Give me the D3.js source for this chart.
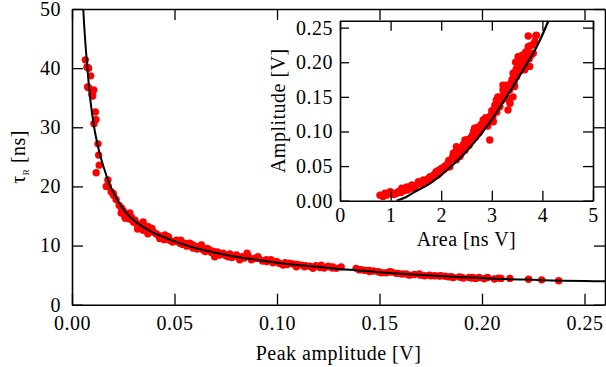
<!DOCTYPE html>
<html><head><meta charset="utf-8">
<script src="https://cdn.jsdelivr.net/npm/d3@7"></script>
<style>
html,body{margin:0;padding:0;background:#fff;}
svg{display:block;}
text{font-family:"Liberation Serif","Times New Roman",serif;fill:#000;letter-spacing:0.5px;}
</style></head>
<body>
<svg id="chart" width="606" height="367"></svg>
<script>
// ---- main panel data: peak amplitude [V] vs rise time tau_R [ns]
const peakAmp = [0.0065,0.0073,0.0081,0.0091,0.0076,0.0106,0.0097,0.0081,0.0101,0.0114,0.0117,0.0107,0.0127,0.0130,0.0133,0.0118,0.0175,0.0167,0.0191,0.0203,0.0177,0.0201,0.0242,0.0258,0.0282,0.0307,0.0323,0.0347,0.0347,0.0372,0.0396,0.0428,0.0453,0.0477,0.0510,0.0526,0.0574,0.0607,
0.0215,0.0230,0.0250,0.0270,0.0290,0.0310,0.0330,0.0360,0.0380,0.0410,0.0440,0.0460,0.0490,0.0540,0.0560,0.0590,
0.0590,0.0631,0.0640,0.0672,0.0696,0.0737,0.0761,0.0802,0.0818,0.0854,0.0875,0.0907,0.0948,0.0997,0.1030,0.1061,0.1094,0.1134,0.1175,0.1216,0.1256,0.1289,
0.0620,0.0660,0.0680,0.0710,0.0720,0.0750,0.0780,0.0840,0.0890,0.0930,0.0970,0.1010,0.1050,0.1080,0.1120,0.1160,0.1190,0.1230,0.1270,
0.1272,0.1313,0.1386,0.1411,0.1451,0.1492,0.1533,0.1582,0.1646,0.1694,0.1743,0.1792,0.1840,0.1889,0.1938,0.1970,
0.1430,0.1470,0.1510,0.1560,0.1610,0.1670,0.1720,0.1770,0.1820,0.1860,0.1910,
0.1954,0.1986,0.2027,0.2060,0.2093,0.2136,0.2227,0.2291,0.2374,0.2010,0.2080,
0.024,0.026,0.028,0.030,0.032,0.034,0.035,0.037,0.039,0.042,0.043,0.045,0.047,0.050,0.053,0.055,0.058,0.061,0.063,0.065,0.069,0.074,0.077,0.079,0.083,0.086,0.091,0.095,0.098,0.104,0.110,0.114,0.118,0.121,0.125,0.140,0.145,0.150,0.155,0.159,0.163,0.170,0.175,0.180,0.185,0.190,0.195];
const tauR = [41.4,40.2,40.0,38.7,36.8,36.3,35.5,36.7,35.3,32.6,31.3,30.6,27.2,25.3,23.6,22.3,21.1,20.0,19.1,18.5,20.0,18.8,16.3,14.9,15.5,14.3,13.2,12.6,14.0,13.2,12.3,11.2,11.8,10.9,10.9,10.4,10.4,9.8,
17.8,16.8,15.9,15.2,14.8,13.8,13.6,12.9,12.4,12.0,11.4,11.2,10.6,10.2,9.9,9.6,
10.1,10.1,9.25,9.25,8.1,8.7,8.1,8.4,7.6,8.7,7.6,8.1,7.6,7.3,6.7,7.0,6.4,6.4,6.15,6.7,6.4,6.15,
9.6,9.5,8.8,8.9,8.4,8.3,8.0,7.9,7.8,7.4,7.6,7.0,6.8,6.9,6.7,6.5,6.6,6.2,6.2,
6.4,6.4,6.15,5.9,5.6,5.6,5.4,5.3,5.0,5.2,5.0,4.85,4.7,4.7,4.6,4.45,
5.8,5.7,5.4,5.5,5.2,5.1,4.9,4.9,4.8,4.6,4.5,
4.6,4.6,4.6,4.35,4.45,4.45,4.3,4.2,4.05,4.4,4.5,
15.5,14.6,14.5,14.0,12.8,13.0,13.5,12.0,12.9,11.8,11.5,11.0,11.5,10.7,10.9,10.4,10.0,9.4,9.8,9.0,9.0,8.5,8.6,8.2,8.1,8.2,7.8,7.3,7.1,7.1,6.8,6.6,6.4,6.3,6.5,5.9,5.8,5.5,5.6,5.3,5.2,5.0,4.9,4.9,4.75,4.6,4.5];
// fitted curve
const fitAmp = [0.0050,0.0055,0.0068,0.0075,0.0090,0.0108,0.0130,0.0155,0.0185,0.0225,0.0270,0.0320,0.0380,0.0450,0.0500,0.0600,0.0700,0.0800,0.0900,0.1000,0.1100,0.1200,0.1300,0.1400,0.1500,0.1600,0.1700,0.1800,0.1900,0.2000,0.2100,0.2200,0.2300,0.2400,0.2500,0.2600];
const fitTau = [54.0,50.0,43.0,40.0,34.5,30.0,26.3,23.2,20.2,17.5,15.3,13.8,12.5,11.4,10.7,9.6,8.8,8.1,7.6,7.1,6.7,6.4,6.05,5.8,5.5,5.25,5.05,4.85,4.65,4.5,4.35,4.25,4.15,4.05,4.0,3.95];
const mainXTicks = [0.00,0.05,0.10,0.15,0.20,0.25];
const mainYTicks = [0,10,20,30,40,50];

// ---- inset data: area [ns V] vs amplitude [V]
const insetArea = [0.79,0.85,0.92,0.89,0.99,1.02,1.15,1.18,1.22,1.32,1.32,1.42,1.45,1.55,1.58,1.65,1.71,1.78,1.84,1.90,1.91,1.97,2.01,2.04,2.11,2.17,2.20,2.24,2.24,2.30,2.30,2.34,2.37,2.40,2.47,2.47,2.47,2.50,2.57,2.60,2.66,2.66,2.73,2.76,2.83,2.83,2.86,2.96,2.99,3.03,3.03,3.09,3.09,3.22,3.22,3.25,3.29,3.32,3.34,3.36,3.42,3.42,3.45,3.49,3.52,3.55,3.62,3.65,3.72,3.72,3.75,3.75,3.78,3.82,3.87,3.88,
1.05,1.25,1.38,1.50,1.62,1.75,1.86,1.95,2.07,2.14,2.27,2.35,2.43,2.53,2.62,2.70,2.79,2.90,2.93,3.00,3.06,3.13,3.18,3.28,3.38,3.48,3.58,3.68,3.70,
2.15,2.22,2.28,2.33,2.38,2.45,2.52,2.55,2.60,2.64,2.68,2.72,2.75,2.80,2.85,2.88,2.92,2.97,3.02,3.05,3.10,3.12,3.16,3.20,3.24,3.27,3.31,3.35,3.40,3.44,3.47,3.50,3.54,3.57,3.60,3.64,3.67,3.74,3.80,3.85,
1.10,1.20,1.35,1.48,1.60,1.68,1.80,1.88,1.93,2.00,2.05,2.10];
const insetAmp = [0.008,0.006,0.008,0.0107,0.013,0.0116,0.013,0.0116,0.018,0.0155,0.020,0.0227,0.018,0.0275,0.025,0.030,0.030,0.0347,0.035,0.042,0.040,0.040,0.047,0.047,0.0516,0.049,0.059,0.066,0.0685,0.059,0.078,0.0685,0.064,0.0685,0.073,0.078,0.0877,0.078,0.090,0.0877,0.097,0.1046,0.102,0.102,0.107,0.1166,0.1166,0.0877,0.124,0.114,0.126,0.131,0.1455,0.160,0.167,0.155,0.167,0.131,0.1455,0.1407,0.150,0.184,0.165,0.179,0.208,0.194,0.1936,0.189,0.2225,0.238,0.2235,0.194,0.2105,0.213,0.238,0.239,
0.009,0.014,0.019,0.022,0.027,0.032,0.038,0.044,0.050,0.055,0.062,0.072,0.080,0.085,0.095,0.100,0.110,0.112,0.120,0.130,0.138,0.142,0.150,0.158,0.170,0.190,0.200,0.205,0.215,
0.058,0.062,0.070,0.066,0.075,0.082,0.088,0.080,0.092,0.100,0.092,0.106,0.098,0.104,0.110,0.120,0.108,0.122,0.120,0.132,0.128,0.150,0.136,0.145,0.150,0.162,0.148,0.160,0.175,0.170,0.200,0.185,0.198,0.188,0.210,0.200,0.215,0.205,0.225,0.230,
0.010,0.012,0.016,0.020,0.024,0.028,0.031,0.036,0.037,0.043,0.045,0.048];
const insetFitArea = [1.12,1.30,1.45,1.78,2.11,2.43,2.57,2.96,3.29,3.62,3.92,4.12];
const insetFitAmp  = [0.000,0.005,0.0116,0.025,0.044,0.066,0.077,0.113,0.150,0.189,0.227,0.260];
const insetXTicks = [0,1,2,3,4,5];
const insetYTicks = [0.00,0.05,0.10,0.15,0.20,0.25];

const svg = d3.select("#chart");
const FS = 20;

// ---------- main panel
const M = {l:72, r:605, t:9, b:304.7};
const x = d3.scaleLinear().domain([0,0.26]).range([M.l,M.r]);
const y = d3.scaleLinear().domain([0,50]).range([M.b,M.t]);

svg.append("defs").append("clipPath").attr("id","clipMain")
  .append("rect").attr("x",M.l).attr("y",M.t).attr("width",M.r-M.l).attr("height",M.b-M.t);

const pts = peakAmp.map((v,i)=>[v,tauR[i]]);
svg.append("g").attr("clip-path","url(#clipMain)").selectAll("circle").data(pts).join("circle")
  .attr("cx",d=>x(d[0])).attr("cy",d=>y(d[1])).attr("r",3.7).attr("fill","#ff0000");

const fit = fitAmp.map((v,i)=>[v,fitTau[i]]);
svg.append("path").attr("clip-path","url(#clipMain)").datum(fit)
  .attr("d",d3.line().x(d=>x(d[0])).y(d=>y(d[1])).curve(d3.curveMonotoneX))
  .attr("fill","none").attr("stroke","#000").attr("stroke-width",2);

function styleAxis(g){
  g.selectAll("path.domain").attr("stroke","#000").attr("stroke-width",1.6);
  g.selectAll(".tick line").attr("stroke","#000").attr("stroke-width",1.3);
  g.selectAll("text").attr("font-size",FS).attr("font-family","Liberation Serif, Times New Roman, serif").attr("fill","#000");
}
const fmt2 = d3.format(".2f");
svg.append("g").attr("transform",`translate(0,${M.b})`)
  .call(d3.axisBottom(x).tickValues(mainXTicks).tickFormat(fmt2).tickSizeInner(-11).tickSizeOuter(0).tickPadding(11)).call(styleAxis);
svg.append("g").attr("transform",`translate(0,${M.t})`)
  .call(d3.axisTop(x).tickValues(mainXTicks).tickFormat("").tickSizeInner(-11).tickSizeOuter(0)).call(styleAxis);
svg.append("g").attr("transform",`translate(${M.l},0)`)
  .call(d3.axisLeft(y).tickValues(mainYTicks).tickFormat(d3.format("d")).tickSizeInner(-11).tickSizeOuter(0).tickPadding(11)).call(styleAxis);
svg.append("g").attr("transform",`translate(${M.r},0)`)
  .call(d3.axisRight(y).tickValues(mainYTicks).tickFormat("").tickSizeInner(-11).tickSizeOuter(0)).call(styleAxis);

svg.append("text").attr("x",(M.l+M.r)/2-0).attr("y",360).attr("text-anchor","middle").attr("font-size",FS)
  .text("Peak amplitude [V]");
const yl = svg.append("text").attr("transform",`translate(25,${(M.t+M.b)/2}) rotate(-90)`).attr("text-anchor","middle").attr("font-size",FS);
yl.append("tspan").text("τ");
yl.append("tspan").attr("font-size",9).attr("dy",4).text("R");
yl.append("tspan").attr("dy",-4).text(" [ns]");

// ---------- inset
const I = {l:340, r:593, t:20.7, b:200.7};
const xi = d3.scaleLinear().domain([0,5]).range([I.l,I.r]);
const yi = d3.scaleLinear().domain([0,0.26]).range([I.b,I.t]);
svg.append("rect").attr("x",I.l).attr("y",I.t).attr("width",I.r-I.l).attr("height",I.b-I.t).attr("fill","#fff");
svg.append("defs").append("clipPath").attr("id","clipInset")
  .append("rect").attr("x",I.l).attr("y",I.t).attr("width",I.r-I.l).attr("height",I.b-I.t);

const ipts = insetArea.map((v,i)=>[v,insetAmp[i]]);
svg.append("g").attr("clip-path","url(#clipInset)").selectAll("circle").data(ipts).join("circle")
  .attr("cx",d=>xi(d[0])).attr("cy",d=>yi(d[1])).attr("r",3.7).attr("fill","#ff0000");
const ifit = insetFitArea.map((v,i)=>[v,insetFitAmp[i]]);
svg.append("path").attr("clip-path","url(#clipInset)").datum(ifit)
  .attr("d",d3.line().x(d=>xi(d[0])).y(d=>yi(d[1])).curve(d3.curveMonotoneX))
  .attr("fill","none").attr("stroke","#000").attr("stroke-width",2.2);

svg.append("g").attr("transform",`translate(0,${I.b})`)
  .call(d3.axisBottom(xi).tickValues(insetXTicks).tickFormat(d3.format("d")).tickSizeInner(-10).tickSizeOuter(0).tickPadding(7)).call(styleAxis);
svg.append("g").attr("transform",`translate(0,${I.t})`)
  .call(d3.axisTop(xi).tickValues(insetXTicks).tickFormat("").tickSizeInner(-10).tickSizeOuter(0)).call(styleAxis);
svg.append("g").attr("transform",`translate(${I.l},0)`)
  .call(d3.axisLeft(yi).tickValues(insetYTicks).tickFormat(fmt2).tickSizeInner(-9).tickSizeOuter(0).tickPadding(7)).call(styleAxis);
svg.append("g").attr("transform",`translate(${I.r},0)`)
  .call(d3.axisRight(yi).tickValues(insetYTicks).tickFormat("").tickSizeInner(-10).tickSizeOuter(0)).call(styleAxis);

svg.append("text").attr("x",(I.l+I.r)/2).attr("y",246).attr("text-anchor","middle").attr("font-size",FS).text("Area [ns V]");
svg.append("text").attr("transform",`translate(285,${(I.t+I.b)/2}) rotate(-90)`).attr("text-anchor","middle").attr("font-size",FS).text("Amplitude [V]");
</script>
</body></html>
